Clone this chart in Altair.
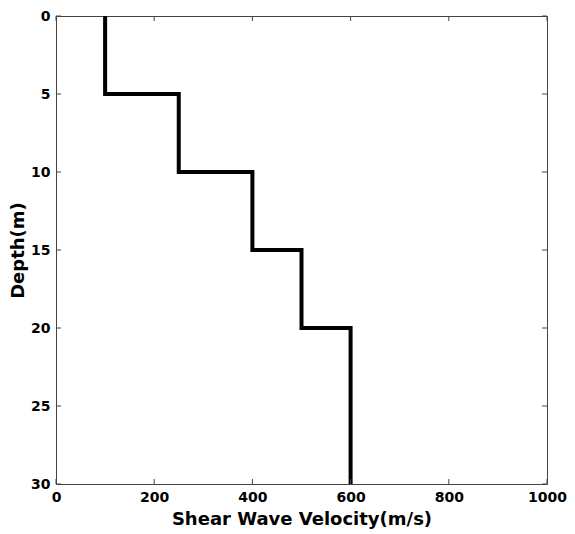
import altair as alt
import pandas as pd

# Layer data
layer_top = [0, 5, 10, 15, 20]
layer_bottom = [5, 10, 15, 20, 30]
velocity = [100, 250, 400, 500, 600]

x_ticks = [0, 200, 400, 600, 800, 1000]
y_ticks = [0, 5, 10, 15, 20, 25, 30]

rows = []
i = 0
for t, b, v in zip(layer_top, layer_bottom, velocity):
    rows.append({"vs": v, "depth": t, "ord": i}); i += 1
    rows.append({"vs": v, "depth": b, "ord": i}); i += 1
df = pd.DataFrame(rows)

W, H = 491, 468
FONT = "DejaVu Sans"
TL = 5

xscale = alt.Scale(domain=[0, 1000], nice=False, zero=False)
yscale = alt.Scale(domain=[0, 30], reverse=True, nice=False, zero=False)

xaxis = alt.Axis(
    title="Shear Wave Velocity(m/s)", values=x_ticks, format="d", ticks=False, domain=False,
    grid=False, labelFont=FONT, labelFontWeight="bold", labelFontSize=14, labelColor="black",
    labelPadding=6, titleFont=FONT, titleFontWeight="bold", titleFontSize=18, titleColor="black",
    titlePadding=6, labelFlush=False)
yaxis = alt.Axis(
    title="Depth(m)", values=y_ticks, format="d", ticks=False, domain=False,
    grid=False, labelFont=FONT, labelFontWeight="bold", labelFontSize=14, labelColor="black",
    labelPadding=6, titleFont=FONT, titleFontWeight="bold", titleFontSize=18, titleColor="black",
    titlePadding=3, labelFlush=False)

line = alt.Chart(df).mark_line(color="black", strokeWidth=4, strokeJoin="miter").encode(
    x=alt.X("vs:Q", scale=xscale, axis=xaxis),
    y=alt.Y("depth:Q", scale=yscale, axis=yaxis),
    order="ord:Q",
)

xt = pd.DataFrame({"vs": x_ticks})
yt = pd.DataFrame({"depth": y_ticks})
tick_color = "#444444"

xb = alt.Chart(xt).mark_rule(color=tick_color, strokeWidth=1).encode(
    x=alt.X("vs:Q", scale=xscale, axis=xaxis), y=alt.value(H), y2=alt.value(H - TL))
xtop = alt.Chart(xt).mark_rule(color=tick_color, strokeWidth=1).encode(
    x=alt.X("vs:Q", scale=xscale, axis=xaxis), y=alt.value(0), y2=alt.value(TL))
yl = alt.Chart(yt).mark_rule(color=tick_color, strokeWidth=1).encode(
    y=alt.Y("depth:Q", scale=yscale, axis=yaxis), x=alt.value(0), x2=alt.value(TL))
yr = alt.Chart(yt).mark_rule(color=tick_color, strokeWidth=1).encode(
    y=alt.Y("depth:Q", scale=yscale, axis=yaxis), x=alt.value(W), x2=alt.value(W - TL))

chart = alt.layer(line, xb, xtop, yl, yr).properties(
    width=W, height=H,
    autosize=alt.AutoSizeParams(type="none"),
    padding={"left": 48, "top": 8, "right": 20, "bottom": 46},
    background="white",
).configure_view(stroke=tick_color, strokeWidth=1)

chart.save("out.html", embed_options={"renderer": "svg", "actions": False})
